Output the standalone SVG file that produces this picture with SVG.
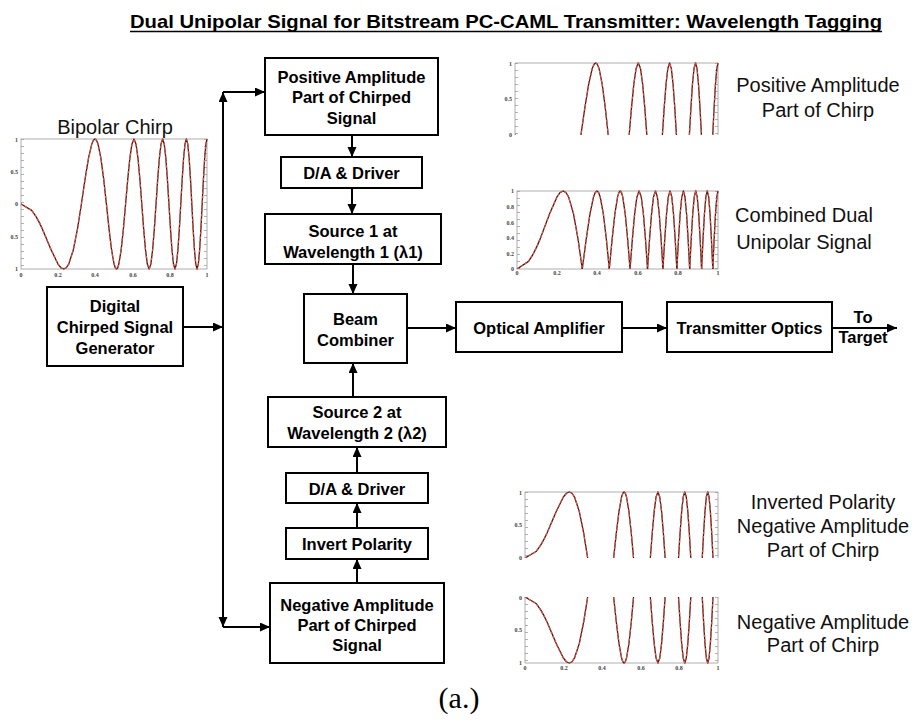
<svg xmlns="http://www.w3.org/2000/svg" xmlns:xlink="http://www.w3.org/1999/xlink" width="917" height="723" viewBox="0 0 917 723">
<style>
.box{fill:#fff;stroke:#000;stroke-width:2}
.bt{font-family:"Liberation Sans",Arial,sans-serif;font-weight:bold;font-size:16.5px;text-anchor:middle;fill:#000}
.lt{font-family:"Liberation Sans",Arial,sans-serif;font-size:20px;text-anchor:middle;fill:#111}
.con{fill:none;stroke:#000;stroke-width:2}
.ax{fill:none;stroke:#999;stroke-width:0.8}
.tk{fill:none;stroke:#999;stroke-width:3;stroke-dasharray:0.7 6.3}
.tl{font-family:"Liberation Serif","Times New Roman",serif;font-weight:bold;font-size:6px;fill:#444}
.cb{fill:none;stroke:#3a1a1a;stroke-width:1.3;stroke-linejoin:round}
.cr{fill:none;stroke:#e8503c;stroke-width:1.3;stroke-linejoin:round;stroke-dasharray:2.5 2}
</style>
<defs>
<marker id="ah" markerUnits="userSpaceOnUse" markerWidth="12" markerHeight="10" refX="10" refY="4.5" orient="auto">
<path d="M0,0 L10,4.5 L0,9 z" fill="#000"/>
</marker>
<clipPath id="cpos"><rect x="-20" y="-115" width="1040" height="115"/></clipPath>
<clipPath id="cneg"><rect x="-20" y="0" width="1040" height="115"/></clipPath>
<path id="cp" vector-effect="non-scaling-stroke" d="M0,0 L57.4,9.8 L81.2,19.5 L99.4,29 L114.8,38.3 L162.3,70.7 L198.8,92.4 L214.8,98.1 L229.6,100 L243.5,98.1 L256.7,92.4 L281.2,70.7 L303.7,38.3 L324.7,0 L344.4,-38.3 L363,-70.7 L380.7,-92.4 L389.3,-98.1 L397.7,-100 L405.9,-98.1 L413.9,-92.4 L429.5,-70.7 L444.6,-38.3 L459.2,0 L473.3,38.3 L487,70.7 L500.4,92.4 L506.9,98.1 L513.4,100 L519.8,98.1 L526.1,92.4 L538.4,70.7 L550.5,38.3 L562.4,0 L574,-38.3 L585.3,-70.7 L596.5,-92.4 L607.4,-100 L618.2,-92.4 L628.8,-70.7 L639.2,-38.3 L649.4,0 L659.4,38.3 L669.4,70.7 L679.1,92.4 L688.8,100 L698.3,92.4 L707.6,70.7 L716.9,38.3 L726,0 L735,-38.3 L744,-70.7 L752.8,-92.4 L761.5,-100 L770.1,-92.4 L778.6,-70.7 L787,-38.3 L795.3,0 L803.6,38.3 L811.7,70.7 L819.8,92.4 L827.8,100 L835.7,92.4 L843.6,70.7 L851.3,38.3 L859,0 L866.7,-38.3 L874.2,-70.7 L881.8,-92.4 L889.2,-100 L896.6,-92.4 L903.9,-70.7 L911.2,-38.3 L918.4,0 L925.5,38.3 L932.6,70.7 L939.6,92.4 L946.6,100 L953.6,92.4 L960.4,70.7 L967.3,38.3 L974.1,0 L980.8,-38.3 L987.5,-70.7 L994.1,-92.4 L1000,-100"/>
<g id="chirp"><use href="#cp" class="cb"/><use href="#cp" class="cr"/></g>
</defs>
<rect width="917" height="723" fill="#fff"/>

<g id="title">
<text x="130" y="28" font-family="'Liberation Sans',Arial,sans-serif" font-weight="bold" font-size="19" textLength="752" lengthAdjust="spacingAndGlyphs">Dual Unipolar Signal for Bitstream PC-CAML Transmitter: Wavelength Tagging</text>
<line x1="130" y1="31.5" x2="882" y2="31.5" stroke="#000" stroke-width="1.6"/>
</g>

<!-- Plots -->
<g id="plot-bipolar">
<text class="lt" x="115" y="134">Bipolar Chirp</text>
<rect class="ax" x="21" y="139" width="186" height="130"/>
<line class="tk" x1="22.5" y1="139" x2="22.5" y2="269"/>
<line class="tk" x1="205.5" y1="139" x2="205.5" y2="269"/>
<g transform="translate(21,204) scale(0.186,0.65)"><use href="#chirp"/></g>
<g class="tl" text-anchor="end">
<text x="18" y="142">1</text><text x="18" y="174">0.5</text><text x="18" y="206">0</text><text x="18" y="239">0.5</text><text x="18" y="271">1</text>
</g>
<g class="tl" text-anchor="middle">
<text x="21" y="277">0</text><text x="58" y="277">0.2</text><text x="95" y="277">0.4</text><text x="133" y="277">0.6</text><text x="170" y="277">0.8</text><text x="207" y="277">1</text>
</g>
</g>

<g id="plot-positive">
<path class="ax" d="M515,135 V63 H718 V135"/>
<line class="tk" x1="516.5" y1="63" x2="516.5" y2="135"/>
<line class="tk" x1="716.5" y1="63" x2="716.5" y2="135"/>
<g transform="translate(515,135) scale(0.203,0.72)"><use href="#chirp" clip-path="url(#cpos)"/></g>
<g class="tl" text-anchor="end"><text x="512" y="66">1</text><text x="512" y="101">0.5</text><text x="512" y="137">0</text></g>
</g>

<g id="plot-combined">
<rect class="ax" x="517" y="191" width="201" height="78"/>
<line class="tk" x1="518.5" y1="191" x2="518.5" y2="269"/>
<line class="tk" x1="716.5" y1="191" x2="716.5" y2="269"/>
<g transform="translate(517,269) scale(0.201,0.78)"><use href="#chirp" clip-path="url(#cpos)"/></g>
<g transform="translate(517,269) scale(0.201,-0.78)"><use href="#chirp" clip-path="url(#cneg)"/></g>
<g class="tl" text-anchor="end" font-size="4.5"><text x="514" y="193">1</text><text x="514" y="209">0.8</text><text x="514" y="225">0.6</text><text x="514" y="240">0.4</text><text x="514" y="256">0.2</text><text x="514" y="271">0</text></g>
<g class="tl" text-anchor="middle" font-size="4.5"><text x="517" y="275">0</text><text x="557" y="275">0.2</text><text x="597" y="275">0.4</text><text x="638" y="275">0.6</text><text x="678" y="275">0.8</text><text x="718" y="275">1</text></g>
</g>

<g id="plot-inverted">
<path class="ax" d="M525,558 V492 H718 V558"/>
<line class="tk" x1="526.5" y1="492" x2="526.5" y2="558"/>
<line class="tk" x1="716.5" y1="492" x2="716.5" y2="558"/>
<g transform="translate(525,558) scale(0.193,-0.66)"><use href="#chirp" clip-path="url(#cneg)"/></g>
<g class="tl" text-anchor="end"><text x="522" y="495">1</text><text x="522" y="527">0.5</text><text x="522" y="560">0</text></g>
</g>

<g id="plot-negative">
<path class="ax" d="M525,597 V663 H718 V597"/>
<line class="tk" x1="526.5" y1="597" x2="526.5" y2="663"/>
<line class="tk" x1="716.5" y1="597" x2="716.5" y2="663"/>
<g transform="translate(525,597) scale(0.193,0.66)"><use href="#chirp" clip-path="url(#cneg)"/></g>
<g class="tl" text-anchor="end"><text x="522" y="600">0</text><text x="522" y="632">0.5</text><text x="522" y="665">1</text></g>
<g class="tl" text-anchor="middle"><text x="525" y="670">0</text><text x="564" y="670">0.2</text><text x="602" y="670">0.4</text><text x="641" y="670">0.6</text><text x="679" y="670">0.8</text><text x="718" y="670">1</text></g>
</g>

<!-- Right-side labels -->
<g id="label-positive"><text class="lt" x="818" y="92">Positive Amplitude</text><text class="lt" x="818" y="117">Part of Chirp</text></g>
<g id="label-combined"><text class="lt" x="804" y="222">Combined Dual</text><text class="lt" x="804" y="249">Unipolar Signal</text></g>
<g id="label-inverted"><text class="lt" x="823" y="509">Inverted Polarity</text><text class="lt" x="823" y="533">Negative Amplitude</text><text class="lt" x="823" y="557">Part of Chirp</text></g>
<g id="label-negative"><text class="lt" x="823" y="629">Negative Amplitude</text><text class="lt" x="823" y="652">Part of Chirp</text></g>

<!-- Connectors -->
<g id="connectors" class="con">
<path d="M183,327 H223" marker-end="url(#ah)"/>
<path d="M223,327 V92" marker-end="url(#ah)"/>
<path d="M223,92 H265" marker-end="url(#ah)"/>
<path d="M223,327 V627" marker-end="url(#ah)"/>
<path d="M223,627 H270" marker-end="url(#ah)"/>
<path d="M352,135 V157" marker-end="url(#ah)"/>
<path d="M352,188 V214" marker-end="url(#ah)"/>
<path d="M353,264 V294" marker-end="url(#ah)"/>
<path d="M353,397 V363" marker-end="url(#ah)"/>
<path d="M357,473 V447" marker-end="url(#ah)"/>
<path d="M357,528 V503" marker-end="url(#ah)"/>
<path d="M357,583 V559" marker-end="url(#ah)"/>
<path d="M407,328 H456" marker-end="url(#ah)"/>
<path d="M622,328 H667" marker-end="url(#ah)"/>
<path d="M832,328 H897" marker-end="url(#ah)"/>
</g>

<!-- Nodes -->
<g id="gen"><rect class="box" x="47" y="287" width="136" height="79"/><text class="bt" x="115" y="312">Digital</text><text class="bt" x="115" y="333">Chirped Signal</text><text class="bt" x="115" y="354">Generator</text></g>
<g id="pos"><rect class="box" x="265" y="58" width="173" height="77"/><text class="bt" x="351.5" y="83">Positive Amplitude</text><text class="bt" x="351.5" y="103">Part of Chirped</text><text class="bt" x="351.5" y="124">Signal</text></g>
<g id="da1"><rect class="box" x="281" y="157" width="141" height="31"/><text class="bt" x="351.5" y="179">D/A &amp; Driver</text></g>
<g id="src1"><rect class="box" x="265" y="214" width="176" height="50"/><text class="bt" x="353" y="237">Source 1 at</text><text class="bt" x="353" y="258">Wavelength 1 (λ1)</text></g>
<g id="beam"><rect class="box" x="304" y="294" width="103" height="69"/><text class="bt" x="355.5" y="325">Beam</text><text class="bt" x="355.5" y="346">Combiner</text></g>
<g id="src2"><rect class="box" x="268" y="397" width="178" height="50"/><text class="bt" x="357" y="418">Source 2 at</text><text class="bt" x="357" y="439">Wavelength 2 (λ2)</text></g>
<g id="da2"><rect class="box" x="286" y="473" width="142" height="30"/><text class="bt" x="357" y="495">D/A &amp; Driver</text></g>
<g id="inv"><rect class="box" x="286" y="528" width="142" height="31"/><text class="bt" x="357" y="550">Invert Polarity</text></g>
<g id="neg"><rect class="box" x="270" y="583" width="174" height="80"/><text class="bt" x="357" y="611">Negative Amplitude</text><text class="bt" x="357" y="631">Part of Chirped</text><text class="bt" x="357" y="651">Signal</text></g>
<g id="oa"><rect class="box" x="456" y="302" width="166" height="50"/><text class="bt" x="539" y="334">Optical Amplifier</text></g>
<g id="txo"><rect class="box" x="667" y="302" width="165" height="50"/><text class="bt" x="749.5" y="334">Transmitter Optics</text></g>
<g id="target"><text class="bt" x="863" y="323">To</text><text class="bt" x="863" y="343">Target</text></g>

<text x="459" y="708" font-family="'Liberation Serif','Times New Roman',serif" font-size="30" text-anchor="middle">(a.)</text>
</svg>
